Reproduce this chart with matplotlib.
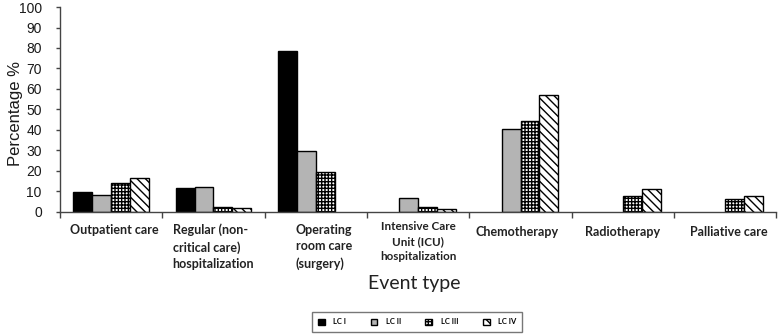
import numpy as np
import matplotlib
matplotlib.use('Agg')
import matplotlib.pyplot as plt
from matplotlib import transforms

categories = ['Outpatient care',
              'Regular (non-\ncritical care)\nhospitalization',
              'Operating\nroom care\n(surgery)',
              'Intensive Care\nUnit (ICU)\nhospitalization',
              'Chemotherapy',
              'Radiotherapy',
              'Palliative care']

series_names = ['LC I', 'LC II', 'LC III', 'LC IV']
lc1 = [9.5, 11.7, 78.5, 0, 0, 0, 0]
lc2 = [8.3, 12.0, 29.6, 6.8, 40.3, 0, 0]
lc3 = [14.0, 2.5, 19.4, 2.2, 44.3, 7.9, 6.0]
lc4 = [16.6, 1.9, 0, 1.1, 57.2, 11.2, 7.9]

yticks = list(range(0, 101, 10))

# per-label layout tweaks (alignment, font size, offsets)
label_align = ['center', 'left', 'left', 'center', 'center', 'center', 'center']
label_size = [9, 9, 9, 8.4, 9, 9, 9]
label_y = [-0.058, -0.058, -0.058, -0.045, -0.068, -0.068, -0.068]
label_dx = [0.03, 0.0, 0.08, 0.0, -0.03, 0.0, 0.03]

plt.rcParams['hatch.linewidth'] = 1.0
plt.rcParams['hatch.color'] = 'black'

fig = plt.figure(figsize=(7.78, 3.35), dpi=100)
ax = fig.add_axes([0.077, 0.368, 0.921, 0.611])

x = np.arange(len(categories))
w = 0.185
styles = [
    dict(color='black', hatch=None),
    dict(color='#b4b4b4', hatch=None),
    dict(color='white', hatch='+++++'),
    dict(color='white', hatch='\\\\\\\\'),
]
bars = []
for i, (vals, st) in enumerate(zip([lc1, lc2, lc3, lc4], styles)):
    vals = np.array(vals, dtype=float)
    b = ax.bar(x + (i - 1.5) * w, vals, w, color=st['color'], hatch=st['hatch'],
               edgecolor='black', linewidth=1.0, label=series_names[i])
    # zero values are not drawn in the original
    for rect, v in zip(b, vals):
        if v == 0:
            rect.set_visible(False)
    bars.append(b)

ax.set_xlim(-0.5, len(categories) - 0.5)
ax.set_ylim(0, 100)
ax.set_yticks(yticks)
ax.set_yticklabels([str(t) for t in yticks], fontsize=10, family='Liberation Sans', color='#1a1a1a')
ax.set_xticks(np.arange(len(categories) + 1) - 0.5)
ax.set_xticklabels([])
ax.tick_params(axis='x', direction='out', length=4, width=1, color='#444444')
ax.tick_params(axis='y', direction='out', length=3, width=1, color='#444444', pad=10)
for s in ['top', 'right']:
    ax.spines[s].set_visible(False)
for s in ['left', 'bottom']:
    ax.spines[s].set_color('#444444')
    ax.spines[s].set_linewidth(1.0)

ax.set_ylabel('Percentage %', fontsize=12, family='Liberation Sans', color='#1a1a1a')
ax.yaxis.label.set_va('center')
ax.yaxis.set_label_coords(-0.062, 0.48)

trans = transforms.blended_transform_factory(ax.transData, ax.transAxes)
for i, lab in enumerate(categories):
    ax.text(i + label_dx[i], label_y[i], lab, transform=trans, ha='center', va='top',
            multialignment=label_align[i], fontsize=label_size[i], family='Lato',
            fontweight='bold', color='#222222', linespacing=1.45)

fig.text(0.532, 0.155, 'Event type', ha='center', va='center', fontsize=14, family='Lato', color='#222222')

leg = fig.legend(handles=bars, labels=series_names, loc='center', bbox_to_anchor=(0.536, 0.039),
                 ncol=4, frameon=True, fancybox=False, edgecolor='#555555',
                 prop={'family': 'Lato', 'weight': 'bold', 'size': 5.5},
                 handlelength=0.9, handleheight=0.9, columnspacing=3.2, handletextpad=1.1,
                 borderpad=0.8)
leg.get_frame().set_linewidth(1.0)

fig.savefig('out.png', dpi=100)
